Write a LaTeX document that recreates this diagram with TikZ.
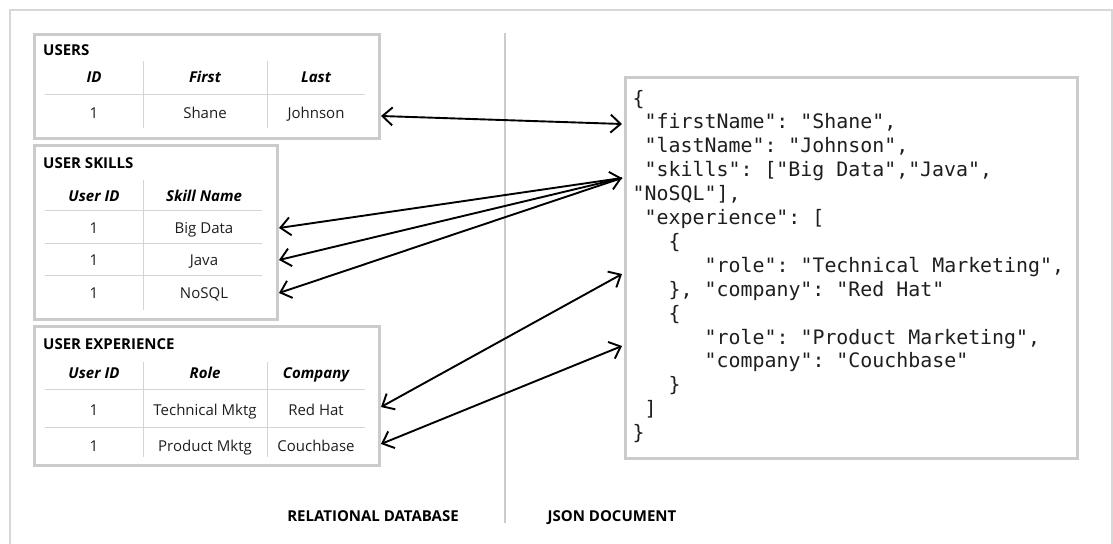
\documentclass[tikz,border=0pt]{standalone}
\usepackage{fontspec}
\setmainfont{Open Sans}
\newfontfamily\monof{DejaVu Sans Mono}
\usetikzlibrary{arrows.meta}
\definecolor{boxgray}{HTML}{CBCBCB}
\definecolor{framegray}{HTML}{D8D8D8}
\definecolor{linegray}{HTML}{D4D4D4}
\definecolor{txt}{HTML}{1E1E1E}
\tikzset{
  tbox/.style={draw=boxgray, line width=3bp, inner sep=0pt, anchor=north west},
  cellline/.style={draw=linegray, line width=1bp},
  ttl/.style={anchor=base west, inner sep=0pt, font=\fontsize{15bp}{18bp}\selectfont\bfseries, text=black},
  hdr/.style={anchor=base, inner sep=0pt, font=\fontsize{15bp}{18bp}\selectfont\bfseries\itshape, text=black},
  cell/.style={anchor=base, inner sep=0pt, font=\fontsize{15bp}{18bp}\selectfont, text=txt},
  lbl/.style={anchor=base, inner sep=0pt, font=\fontsize{15bp}{18bp}\selectfont\bfseries, text=black},
  jl/.style={anchor=base west, inner sep=0pt, font=\monof\fontsize{19.9bp}{24bp}\selectfont\frenchspacing, text=txt},
  barb/.tip={Straight Barb[length=10bp,width=18bp]},
  conn/.style={line width=1.9bp, black},
}
\begin{document}
\begin{tikzpicture}[x=1bp, y=-1bp]
\useasboundingbox (0,0) rectangle (1113,544);
% outer frame and divider
\draw[framegray, line width=2bp] (10,10) rectangle (1111.5,546);
\draw[boxgray, line width=2.5bp] (505,33) -- (505,523);

% ---------- USERS ----------
\node[tbox, minimum width=345bp, minimum height=104bp] (users) at (33,33) {};
\node[ttl] (usersT) at (43,55.7) {USERS};
\draw[cellline] (45,95) -- (365,95);
\draw[cellline] (143,61) -- (143,128);
\draw[cellline] (267,61) -- (267,128);
\node[hdr] (uh1) at (94,82.7) {ID};
\node[hdr] (uh2) at (205,82.7) {First};
\node[hdr] (uh3) at (316,82.7) {Last};
\node[cell] (ud1) at (94,118.3) {1};
\node[cell] (ud2) at (205,118.3) {Shane};
\node[cell] (ud3) at (316,118.3) {Johnson};

% ---------- USER SKILLS ----------
\node[tbox, minimum width=243bp, minimum height=174bp] (skills) at (33,144) {};
\node[ttl] (skillsT) at (43,169) {USER SKILLS};
\draw[cellline] (45,211) -- (262,211);
\draw[cellline] (45,244) -- (262,244);
\draw[cellline] (45,276) -- (262,276);
\draw[cellline] (143,180) -- (143,310);
\node[hdr] (sh1) at (94,201.7) {User ID};
\node[hdr] (sh2) at (204,201.7) {Skill Name};
\node[cell] (sa1) at (94,233.3) {1};
\node[cell] (sa2) at (204,233.3) {Big Data};
\node[cell] (sb1) at (94,265.7) {1};
\node[cell] (sb2) at (204,265.7) {Java};
\node[cell] (sc1) at (94,299) {1};
\node[cell] (sc2) at (204,299) {NoSQL};

% ---------- USER EXPERIENCE ----------
\node[tbox, minimum width=345bp, minimum height=139bp] (exper) at (33,325) {};
\node[ttl] (experT) at (43,350) {USER EXPERIENCE};
\draw[cellline] (45,389) -- (365,389);
\draw[cellline] (45,427) -- (365,427);
\draw[cellline] (143,362) -- (143,457);
\draw[cellline] (267,362) -- (267,457);
\node[hdr] (eh1) at (94,378.3) {User ID};
\node[hdr] (eh2) at (205,378.3) {Role};
\node[hdr] (eh3) at (316,378.3) {Company};
\node[cell] (ea1) at (94,415) {1};
\node[cell] (ea2) at (205,415) {Technical Mktg};
\node[cell] (ea3) at (316,415) {Red Hat};
\node[cell] (eb1) at (94,451.5) {1};
\node[cell] (eb2) at (205,451.5) {Product Mktg};
\node[cell] (eb3) at (316,451.5) {Couchbase};

% ---------- JSON ----------
\node[tbox, minimum width=452bp, minimum height=381bp] (json) at (624,76) {};
\node[jl] (j1)  at (632.5,105.1) {\{};
\node[jl] (j2)  at (644.5,129) {"firstName": "Shane",};
\node[jl] (j3)  at (644.5,152.9) {"lastName": "Johnson",};
\node[jl] (j4)  at (644.5,176.8) {"skills": ["Big Data","Java",};
\node[jl] (j5)  at (632.5,200.7) {"NoSQL"],};
\node[jl] (j6)  at (644.5,224.6) {"experience": [};
\node[jl] (j7)  at (668.5,248.5) {\{};
\node[jl] (j8)  at (704.5,272.4) {"role": "Technical Marketing",};
\node[jl] (j9)  at (668.5,296.3) {\}, "company": "Red Hat"};
\node[jl] (j10) at (668.5,320.2) {\{};
\node[jl] (j11) at (704.5,344.1) {"role": "Product Marketing",};
\node[jl] (j12) at (704.5,368) {"company": "Couchbase"};
\node[jl] (j13) at (668.5,391.9) {\}};
\node[jl] (j14) at (644.5,415.8) {]};
\node[jl] (j15) at (632.5,439.7) {\}};

% ---------- labels ----------
\node[lbl] (relL) at (373,521.7) {RELATIONAL DATABASE};
\node[lbl] (jsonL) at (612,521.7) {JSON DOCUMENT};

% ---------- connectors ----------
\coordinate (uA) at (381,116);
\coordinate (uB) at (622,124);
\coordinate (sB) at (622,178);
\coordinate (s1) at (279,228);
\coordinate (s2) at (279,260);
\coordinate (s3) at (279,293);
\coordinate (e1A) at (381,407);
\coordinate (e1B) at (622,274);
\coordinate (e2A) at (381,444);
\coordinate (e2B) at (622,346);
\draw[conn, {barb}-{barb}] (uA) -- (uB);
\draw[conn, {barb}-] (s1) -- (sB);
\draw[conn, {barb}-{barb}] (s2) -- (sB);
\draw[conn, {barb}-] (s3) -- (sB);
\draw[conn, {barb}-{barb}] (e1A) -- (e1B);
\draw[conn, {barb}-{barb}] (e2A) -- (e2B);
\end{tikzpicture}
\end{document}
